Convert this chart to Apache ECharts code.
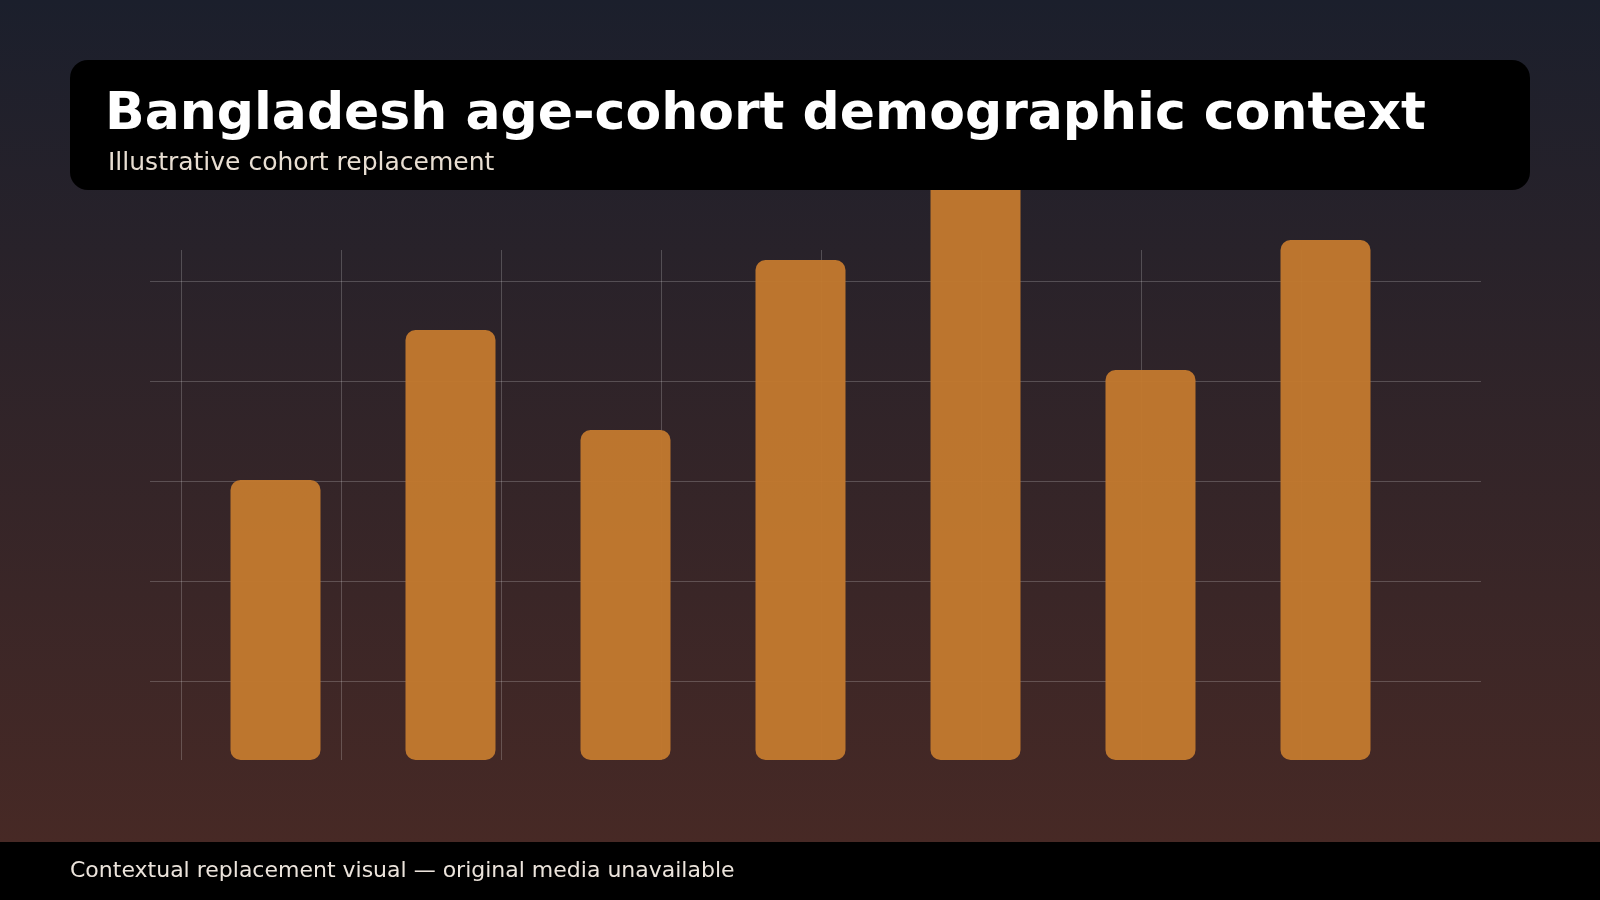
<!DOCTYPE html>
<html>
<head>
<meta charset="utf-8">
<title>Bangladesh age-cohort demographic context</title>
<script src="https://cdn.jsdelivr.net/npm/echarts@6/dist/echarts.min.js"></script>
<style>
    html, body { margin: 0; padding: 0; }
    body {
        width: 1600px;
        height: 900px;
        background: linear-gradient(to bottom, #1b1f2c 0px, #472925 842px, #472925 900px);
    }
    #chart { width: 1600px; height: 900px; }
</style>
</head>
<body>
<div id="chart"></div>
<script>
// cohort bars (no labels are shown on the picture)
let cohorts = ['Cohort 1', 'Cohort 2', 'Cohort 3', 'Cohort 4', 'Cohort 5', 'Cohort 6', 'Cohort 7'];
let cohortValues = [28, 43, 33, 50, 60, 39, 52];

// background lattice behind the bars
let rowTicks = [0, 1, 2, 3, 4];
let columnTicks = [0, 1, 2, 3, 4, 5, 6, 7];

let titleText = 'Bangladesh age-cohort demographic context';
let subtitleText = 'Illustrative cohort replacement';
let footerText = 'Contextual replacement visual \u2014 original media unavailable';

let myChart = echarts.init(document.getElementById('chart'));

let gridLine = {
    show: true,
    lineStyle: {color: 'rgba(255,255,255,0.2)', width: 1}
};

option = {
    backgroundColor: 'transparent',
    animation: false,
    textStyle: {fontFamily: 'DejaVu Sans'},
    title: [
        {
            text: titleText,
            left: 105,
            top: 89,
            padding: 0,
            textStyle: {color: '#ffffff', fontSize: 52, fontWeight: 'bold', fontFamily: 'DejaVu Sans'}
        },
        {
            text: subtitleText,
            left: 108,
            top: 151,
            padding: 0,
            textStyle: {color: '#e8ded2', fontSize: 25, fontWeight: 'normal', fontFamily: 'DejaVu Sans'}
        },
        {
            text: footerText,
            left: 70,
            top: 860,
            padding: 0,
            textStyle: {color: '#ece4dc', fontSize: 22, fontWeight: 'normal', fontFamily: 'DejaVu Sans'}
        }
    ],
    graphic: [
        {
            type: 'rect',
            z: 5,
            shape: {x: 70, y: 60, width: 1460, height: 130, r: 18},
            style: {fill: '#000000'}
        },
        {
            type: 'rect',
            z: 5,
            shape: {x: 0, y: 842, width: 1600, height: 58},
            style: {fill: '#000000'}
        }
    ],
    grid: [
        {left: 188, width: 1225, top: 160, height: 600},
        {left: 150, width: 1331, top: 281, height: 400},
        {left: 181, width: 1120, top: 250, height: 510}
    ],
    xAxis: [
        {
            type: 'category', gridIndex: 0, data: cohorts,
            axisLine: {show: false}, axisTick: {show: false}, axisLabel: {show: false}, splitLine: {show: false}
        },
        {
            type: 'value', gridIndex: 1, min: 0, max: 1,
            axisLine: {show: false}, axisTick: {show: false}, axisLabel: {show: false}, splitLine: {show: false}
        },
        {
            type: 'value', gridIndex: 2,
            min: columnTicks[0], max: columnTicks[columnTicks.length - 1], interval: 1,
            axisLine: {show: false}, axisTick: {show: false}, axisLabel: {show: false}, splitLine: gridLine
        }
    ],
    yAxis: [
        {
            type: 'value', gridIndex: 0, min: 0, max: 60,
            axisLine: {show: false}, axisTick: {show: false}, axisLabel: {show: false}, splitLine: {show: false}
        },
        {
            type: 'value', gridIndex: 1,
            min: rowTicks[0], max: rowTicks[rowTicks.length - 1], interval: 1,
            axisLine: {show: false}, axisTick: {show: false}, axisLabel: {show: false}, splitLine: gridLine
        },
        {
            type: 'value', gridIndex: 2, min: 0, max: 1,
            axisLine: {show: false}, axisTick: {show: false}, axisLabel: {show: false}, splitLine: {show: false}
        }
    ],
    series: [
        {
            name: 'Cohort size',
            type: 'bar',
            xAxisIndex: 0,
            yAxisIndex: 0,
            barWidth: 90,
            data: cohortValues,
            itemStyle: {
                color: '#c47a2e',
                opacity: 0.95,
                borderRadius: 10
            }
        }
    ]
};
myChart.setOption(option);
</script>
</body>
</html>
